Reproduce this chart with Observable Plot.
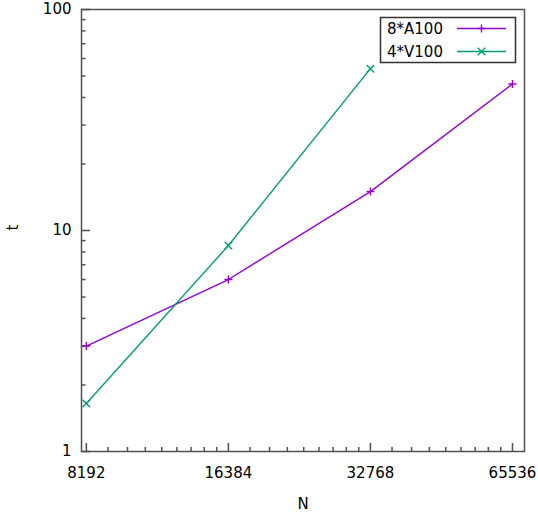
<!DOCTYPE html>
<html><head><meta charset="utf-8">
<script src="https://cdn.jsdelivr.net/npm/d3@7"></script>
<script src="https://cdn.jsdelivr.net/npm/@observablehq/plot@0.6"></script>
<style>body{margin:0;background:#fff} #wrap{position:relative;width:538px;height:519px}</style>
</head><body><div id="wrap"></div>
<script>
// ---- data ----
const N = [8192, 16384, 32768, 65536];
const tA100 = [3.0, 6.0, 15.0, 46.0];
const tV100 = [1.65, 8.55, 54.0];
const seriesNames = ["8*A100", "4*V100"];
const seriesColors = ["#9400d3", "#009e73"];
const seriesSymbols = ["plus", "times"];
const xTickLabels = [8192, 16384, 32768, 65536];
const yTickLabels = [1, 10, 100];
const xTitle = "N", yTitle = "t";

const rows = [
  ...tA100.map((t, i) => ({N: N[i], t, s: seriesNames[0]})),
  ...tV100.map((t, i) => ({N: N[i], t, s: seriesNames[1]}))
];
const yMinor = [];
for (const d of [1, 10]) for (let k = 2; k <= 9; k++) yMinor.push(d * k);
const xMinor = [];
for (let i = 0; i < xTickLabels.length - 1; i++) for (let k = 1; k <= 8; k++) xMinor.push(xTickLabels[i] * (1 + k / 9));

const W = 538, H = 519, mL = 81, mR = 14, mT = 9, mB = 68;
const pw = W - mL - mR, ph = H - mT - mB;
const axisColor = "#505050";
const symR = {plus: 2.7, times: 3.5};

const chart = Plot.plot({
  width: W, height: H, marginLeft: mL, marginRight: mR, marginTop: mT, marginBottom: mB,
  style: {fontFamily: "DejaVu Sans", fontSize: "15px", background: "#fff", color: "#000"},
  x: {type: "log", base: 2, domain: [8000, 69500], label: null},
  y: {type: "log", domain: [1, 100], label: null},
  color: {domain: seriesNames, range: seriesColors},
  marks: [
    Plot.tickY(yTickLabels, {y: d => d, insetRight: pw - 9, stroke: axisColor, strokeWidth: 1.5}),
    Plot.tickY(yMinor, {y: d => d, insetRight: pw - 4.5, stroke: axisColor, strokeWidth: 1.5}),
    Plot.tickX(xTickLabels, {x: d => d, insetTop: ph - 8, stroke: axisColor, strokeWidth: 1.5}),
    Plot.tickX(xMinor, {x: d => d, insetTop: ph - 4, stroke: axisColor, strokeWidth: 1.5}),
    Plot.line(rows, {x: "N", y: "t", z: "s", stroke: "s", strokeWidth: 1.4}),
    ...seriesNames.map((name, i) =>
      Plot.dot(rows.filter(d => d.s === name), {x: "N", y: "t", stroke: "s", symbol: seriesSymbols[i], r: symR[seriesSymbols[i]], strokeWidth: 1.4})
    ),
    Plot.frame({stroke: axisColor, strokeWidth: 1.5}),
    Plot.axisX({ticks: xTickLabels, tickSize: 0, tickPadding: 16, tickFormat: d => String(d)}),
    Plot.axisY({ticks: yTickLabels, tickSize: 0, tickPadding: 10, tickFormat: d => String(d)}),
    Plot.text([xTitle], {frameAnchor: "bottom", dy: 57, text: d => d}),
    Plot.text([yTitle], {frameAnchor: "left", dx: -68, rotate: -90, text: d => d})
  ]
});
const wrap = document.getElementById("wrap");
wrap.appendChild(chart);

// ---- legend (overlay, inside plot area like gnuplot key) ----
const color = chart.scale("color");
const leg = d3.select(wrap).append("svg")
  .attr("width", W).attr("height", H)
  .style("position", "absolute").style("left", "0px").style("top", "0px")
  .style("font-family", "DejaVu Sans").style("font-size", "15px");
leg.append("rect").attr("x", 380.5).attr("y", 17.5).attr("width", 135).attr("height", 45)
  .attr("fill", "#fff").attr("stroke", "#333").attr("stroke-width", 1.5);
const d3sym = {plus: d3.symbolPlus, times: d3.symbolTimes};
seriesNames.forEach((name, i) => {
  const cy = 28.5 + i * 23;
  const c = color.apply(name);
  leg.append("text").attr("x", 387).attr("y", cy).attr("dy", "0.35em").attr("fill", "#000").text(name);
  leg.append("line").attr("x1", 457).attr("x2", 506).attr("y1", cy).attr("y2", cy)
    .attr("stroke", c).attr("stroke-width", 1.4);
  const r = symR[seriesSymbols[i]];
  leg.append("path").attr("transform", `translate(481.5,${cy})`)
    .attr("d", d3.symbol(d3sym[seriesSymbols[i]], Math.PI * r * r)())
    .attr("fill", "none").attr("stroke", c).attr("stroke-width", 1.4);
});
</script>
</body></html>
